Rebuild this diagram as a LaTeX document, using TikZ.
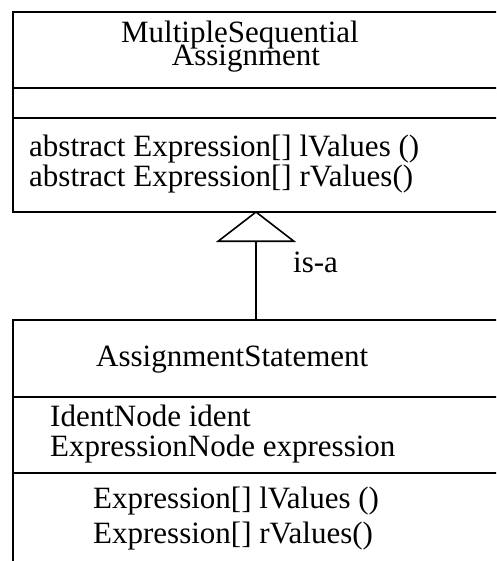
\documentclass[tikz,border=0pt]{standalone}
\usepackage{fontspec}
\setmainfont{Liberation Serif}
\usetikzlibrary{arrows.meta}
\begin{document}
\begin{tikzpicture}[x=1pt,y=-1pt,
  umlline/.style={line width=1.6pt},
  txt/.style={inner sep=0pt,font=\fontsize{31}{34}\selectfont},
  isa/.style={umlline,-{Triangle[open,length=31pt,width=80pt,line width=1.6pt]}}]
\clip (0,0) rectangle (496,561);
\fill[white] (0,0) rectangle (496,561);

% superclass box
\node[umlline,draw,rectangle,minimum width=520pt,minimum height=200pt,
      anchor=north west,inner sep=0pt] (msa) at (12,11) {};
\draw[umlline] (12,88) -- (540,88);
\draw[umlline] (12,118) -- (540,118);
\node[txt,anchor=base] (msaname1) at (240,43) {MultipleSequential};
\node[txt,anchor=base] (msaname2) at (246,66) {Assignment};
\node[txt,anchor=base west] (msaop1) at (29,157) {abstract Expression[] lValues ()};
\node[txt,anchor=base west] (msaop2) at (29,186) {abstract Expression[] rValues()};

% subclass box
\node[umlline,draw,rectangle,minimum width=520pt,minimum height=280pt,
      anchor=north west,inner sep=0pt] (as) at (12,319) {};
\draw[umlline] (12,397) -- (540,397);
\draw[umlline] (12,473) -- (540,473);
\node[txt,anchor=base west] (asname) at (96,366) {AssignmentStatement};
\node[txt,anchor=base west] (asattr1) at (50,426) {IdentNode ident};
\node[txt,anchor=base west] (asattr2) at (50,456) {ExpressionNode expression};
\node[txt,anchor=base west] (asop1) at (93,508) {Expression[] lValues ()};
\node[txt,anchor=base west] (asop2) at (93,543) {Expression[] rValues()};

% generalisation
\coordinate (gfoot) at (256,319);
\coordinate (gtip) at (256,211);
\draw[isa] (gfoot) -- (gtip);
\node[txt,anchor=base west] (isalabel) at (293,272) {is-a};
\end{tikzpicture}
\end{document}
